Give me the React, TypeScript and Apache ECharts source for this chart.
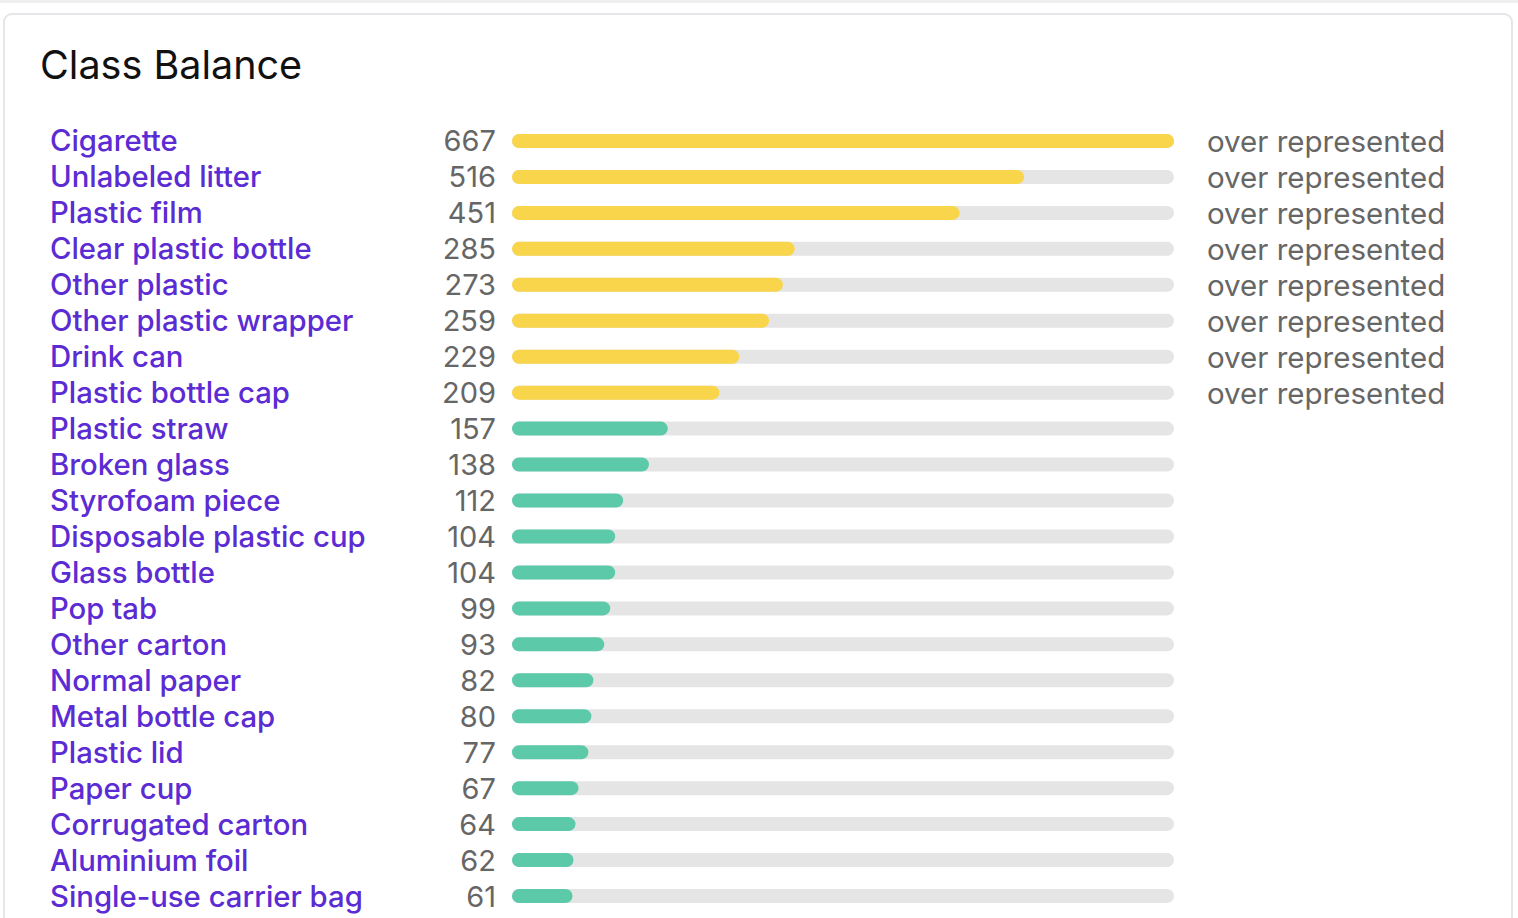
import React, { useEffect, useRef } from "react";
import * as echarts from "echarts";

const categories = [
  "Cigarette",
  "Unlabeled litter",
  "Plastic film",
  "Clear plastic bottle",
  "Other plastic",
  "Other plastic wrapper",
  "Drink can",
  "Plastic bottle cap",
  "Plastic straw",
  "Broken glass",
  "Styrofoam piece",
  "Disposable plastic cup",
  "Glass bottle",
  "Pop tab",
  "Other carton",
  "Normal paper",
  "Metal bottle cap",
  "Plastic lid",
  "Paper cup",
  "Corrugated carton",
  "Aluminium foil",
  "Single-use carrier bag",
];

const counts = [667, 516, 451, 285, 273, 259, 229, 209, 157, 138, 112, 104, 104, 99, 93, 82, 80, 77, 67, 64, 62, 61];

const statuses = [
  "over represented",
  "over represented",
  "over represented",
  "over represented",
  "over represented",
  "over represented",
  "over represented",
  "over represented",
  "", "", "", "", "", "", "", "", "", "", "", "", "", "",
];

const axisMax = 667;

const FONT = "Inter, 'Noto Sans', sans-serif";

export default function App() {
  const ref = useRef<HTMLDivElement>(null);

  useEffect(() => {
    if (!ref.current) return;
    const chart = echarts.init(ref.current, null, { renderer: "svg" });
    chart.setOption({
      animation: false,
      backgroundColor: "#ffffff",
      graphic: [
        {
          type: "rect",
          silent: true,
          z: -10,
          shape: { x: 0, y: 0, width: 1518, height: 3 },
          style: { fill: "#efefef" },
        },
        {
          type: "rect",
          silent: true,
          z: -10,
          shape: { x: 4, y: 14, width: 1508, height: 940, r: 8 },
          style: { fill: "#ffffff", stroke: "#e6e6ea", lineWidth: 2 },
        },
        {
          type: "text",
          left: 40,
          top: 45,
          style: {
            text: "Class Balance",
            fontFamily: FONT,
            fontSize: 39.5,
            fontWeight: 400,
            fill: "#111111",
          },
        },
      ],
      grid: { left: 512, right: 344, top: 123, bottom: 4, containLabel: false },
      xAxis: {
        type: "value",
        min: 0,
        max: axisMax,
        show: false,
      },
      yAxis: [
        {
          type: "category",
          data: categories,
          inverse: true,
          axisLine: { show: false },
          axisTick: { show: false },
          splitLine: { show: false },
          axisLabel: {
            interval: 0,
            margin: 462,
            align: "left",
            formatter: (v: string, i: number) => `{n|${v}}{v|${counts[i]}}`,
            rich: {
              n: {
                width: 386,
                align: "left",
                fontFamily: FONT,
                fontSize: 29.3,
                fontWeight: 500,
                color: "#5B2BD3",
              },
              v: {
                width: 60,
                align: "right",
                fontFamily: FONT,
                fontSize: 29,
                fontWeight: 400,
                color: "#666666",
              },
            },
          },
        },
        {
          type: "category",
          data: categories,
          inverse: true,
          position: "right",
          axisLine: { show: false },
          axisTick: { show: false },
          splitLine: { show: false },
          axisLabel: {
            interval: 0,
            margin: 33,
            align: "left",
            formatter: (_v: string, i: number) => statuses[i],
            fontFamily: FONT,
            fontSize: 29.5,
            color: "#666666",
          },
        },
      ],
      series: [
        {
          type: "bar",
          yAxisIndex: 0,
          data: counts.map((c, i) => ({
            value: c,
            itemStyle: { color: statuses[i] ? "#F8D54A" : "#5CCAA8" },
          })),
          barWidth: 14,
          showBackground: true,
          backgroundStyle: { color: "#E5E5E5", borderRadius: 7 },
          itemStyle: { borderRadius: 7 },
          silent: true,
        },
      ],
    });
    return () => chart.dispose();
  }, []);

  return (
    <div
      ref={ref}
      style={{ position: "fixed", left: 0, top: 0, width: 1518, height: 918 }}
    />
  );
}
